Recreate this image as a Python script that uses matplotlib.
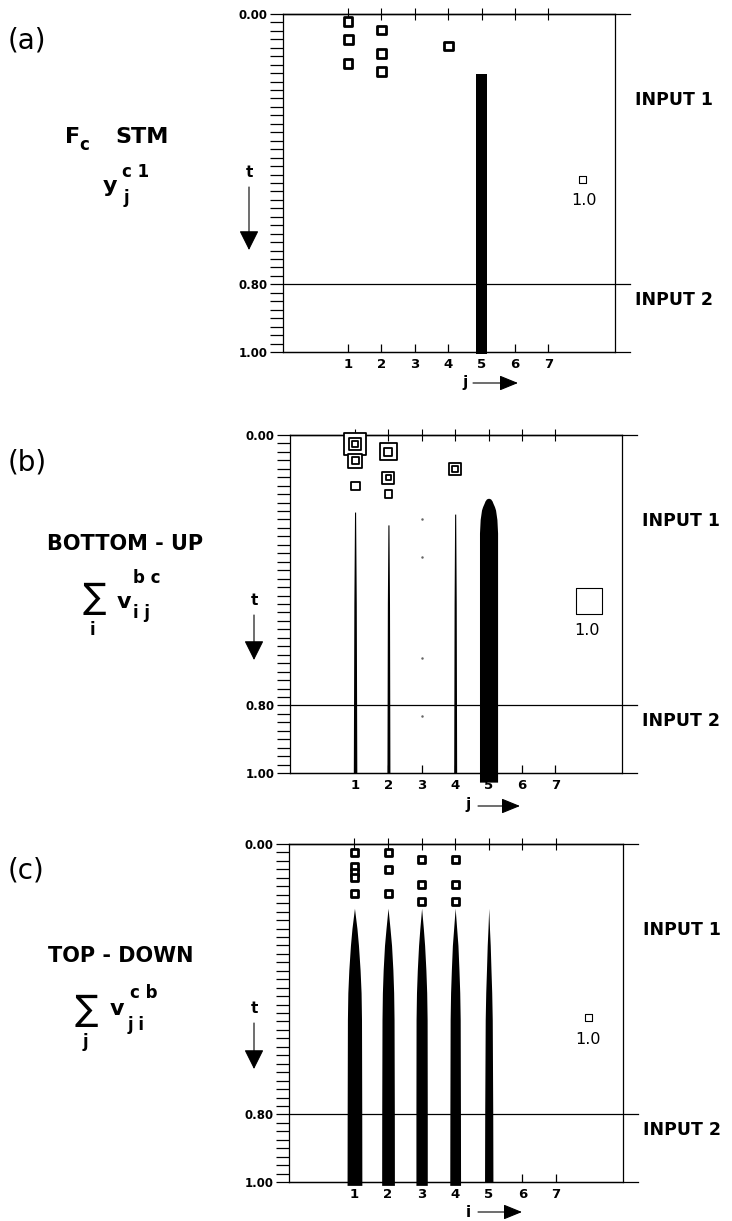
import numpy as np
import matplotlib.pyplot as plt
from matplotlib.ticker import MultipleLocator

W, H = 732, 1221
PX_PER_J = 33.35   # pixels for one column step on the j axis
PT = 0.72          # points per pixel at dpi 100

cols = [1, 2, 3, 4, 5, 6, 7]
t_ticks = [0.0, 0.8, 1.0]
t_labels = ['0.00', '0.80', '1.00']

## (a) F_c STM  y_j^{c1}   (size of a square ~ value, 1.0 = reference square)
a_ref = 7
a_sq_j = [1, 1, 1, 2, 2, 2, 4]
a_sq_t = [0.023, 0.075, 0.146, 0.047, 0.116, 0.169, 0.095]
a_sq_v = [1.25, 1.3, 1.25, 1.25, 1.3, 1.3, 1.25]
a_bar_j = [5]
a_bar_t0 = [0.178]
a_bar_t1 = [1.005]
a_bar_v = [1.45]

## (b) bottom-up  sum_i v_ij^{bc}
b_ref = 27
b_sq_j = [1, 1, 1, 1, 1, 1, 2, 2, 2, 2, 2, 4, 4]
b_sq_t = [0.027, 0.027, 0.027, 0.076, 0.076, 0.151, 0.050, 0.050, 0.126, 0.126, 0.175, 0.100, 0.100]
b_sq_v = [0.81, 0.45, 0.22, 0.52, 0.26, 0.33, 0.63, 0.30, 0.44, 0.20, 0.28, 0.44, 0.22]
b_line_j = [1, 2, 4]
b_line_t = [[0.228, 0.5, 1.0], [0.266, 0.5, 1.0], [0.234, 0.5, 1.0]]
b_line_v = [[0.04, 0.09, 0.13], [0.04, 0.08, 0.11], [0.04, 0.08, 0.11]]
b_dot_j = [3, 3, 3, 3]
b_dot_t = [0.25, 0.36, 0.66, 0.83]
b_big_j = 5
b_big_t = [0.187, 0.189, 0.195, 0.202, 0.212, 0.222, 0.25, 0.29, 1.027]
b_big_v = [0.0, 0.15, 0.26, 0.33, 0.44, 0.52, 0.62, 0.67, 0.67]

## (c) top-down  sum_j v_ji^{cb}
c_ref = 7
c_sq_j = [1, 1, 1, 1, 1, 2, 2, 2, 3, 3, 3, 4, 4, 4]
c_sq_t = [0.026, 0.068, 0.083, 0.098, 0.146, 0.026, 0.074, 0.146,
          0.047, 0.121, 0.171, 0.047, 0.121, 0.171]
c_sq_v = [1.0] * 14
c_sp_j = [1, 2, 3, 4, 5]
c_sp_t = [0.19, 0.25, 0.30, 0.373, 0.44, 0.52, 0.80, 1.01]
c_sp_v = [[0, 0.71, 1.14, 1.60, 1.88, 2.00, 2.07, 2.10],
          [0, 0.57, 1.00, 1.38, 1.60, 1.71, 1.79, 1.81],
          [0, 0.50, 0.86, 1.22, 1.45, 1.57, 1.61, 1.61],
          [0, 0.43, 0.79, 1.08, 1.30, 1.43, 1.50, 1.53],
          [0, 0.21, 0.43, 0.64, 0.85, 1.00, 1.14, 1.19]]


def fx(x):
    return x / W


def fy(y):
    return 1 - y / H


def width_j(v, ref):
    # full width of a glyph in j units
    return np.asarray(v) * ref / PX_PER_J


def squares(ax, j, t, v, ref, lw):
    side = np.asarray(v) * ref * PT
    ax.scatter(j, t, s=side ** 2, marker='s', facecolor='white', edgecolor='k',
               linewidth=lw, clip_on=False, zorder=4)


fig = plt.figure(figsize=(W / 100, H / 100), dpi=100)

boxes = [(283, 14, 615, 352), (290, 435, 622, 773), (289, 844, 623, 1182)]
axes = []
for (l, t, r, b) in boxes:
    ax = fig.add_axes([fx(l), fy(b), (r - l) / W, (b - t) / H])
    ax.set_xlim(-0.95, 9.0)
    ax.set_ylim(1.0, 0.0)
    ax.set_xticks(cols)
    ax.set_xticklabels([str(c) for c in cols], fontsize=9.5, fontweight='bold')
    ax.tick_params(axis='x', direction='in', length=6, width=0.9, pad=4)
    ax.set_yticks(t_ticks)
    ax.set_yticklabels(t_labels, fontsize=8.5, fontweight='bold')
    ax.yaxis.set_minor_locator(MultipleLocator(0.025))
    ax.tick_params(axis='y', which='both', direction='out', length=9.4, width=0.9, pad=1.5)
    sec = ax.secondary_xaxis('top')
    sec.set_xticks(cols)
    sec.tick_params(direction='inout', length=9, width=0.8, labeltop=False)
    sec.spines['top'].set_linewidth(0.9)
    for s in ax.spines.values():
        s.set_linewidth(0.9)
    # horizontal rules run a little past the right border
    for tv in t_ticks:
        ax.plot([0, 1.045], [tv, tv], color='k', lw=0.9,
                transform=ax.get_yaxis_transform(), clip_on=False)
    ax.text(9.6, 0.255, 'INPUT 1', fontsize=12.5, fontweight='bold', va='center', clip_on=False)
    ax.text(9.6, 0.845, 'INPUT 2', fontsize=12.5, fontweight='bold', va='center', clip_on=False)
    axes.append(ax)

ax_a, ax_b, ax_c = axes

# ---- (a)
squares(ax_a, a_sq_j, a_sq_t, a_sq_v, a_ref, 2.0)
for j, t0, t1, v in zip(a_bar_j, a_bar_t0, a_bar_t1, a_bar_v):
    ax_a.bar(j, t1 - t0, bottom=t0, width=width_j(v, a_ref), color='k', clip_on=False, zorder=3)
squares(ax_a, [8.0], [0.488], [1.0], a_ref, 0.8)
ax_a.text(8.07, 0.553, '1.0', fontsize=11.5, ha='center', va='center')

# ---- (b)
squares(ax_b, b_sq_j, b_sq_t, b_sq_v, b_ref, 1.3)
for j, tt, vv in zip(b_line_j, b_line_t, b_line_v):
    w = width_j(vv, b_ref)
    ax_b.fill_betweenx(tt, j - w / 2, j + w / 2, color='k', lw=0, clip_on=False, zorder=3)
ax_b.scatter(b_dot_j, b_dot_t, s=0.6, color='0.4', zorder=3)
w = width_j(b_big_v, b_ref)
ax_b.fill_betweenx(b_big_t, b_big_j - w / 2, b_big_j + w / 2, color='k', lw=0,
                   clip_on=False, zorder=3)
squares(ax_b, [8.0], [0.49], [1.0], b_ref, 0.8)
ax_b.text(7.95, 0.577, '1.0', fontsize=11.5, ha='center', va='center')

# ---- (c)
squares(ax_c, c_sq_j, c_sq_t, c_sq_v, c_ref, 2.0)
for j, vv in zip(c_sp_j, c_sp_v):
    w = width_j(vv, c_ref)
    tt = list(c_sp_t)
    if j == 5:
        tt[-1] = 1.0
    ax_c.fill_betweenx(tt, j - w / 2, j + w / 2, color='k', lw=0, clip_on=False, zorder=3)
squares(ax_c, [7.97], [0.513], [1.0], c_ref, 0.8)
ax_c.text(7.97, 0.578, '1.0', fontsize=11.5, ha='center', va='center')

# ---- left-hand labels
def ftxt(x, y, s, size, weight='bold', ha='left', va='baseline'):
    fig.text(fx(x), fy(y), s, fontsize=size, fontweight=weight, ha=ha, va=va)


def arrow(x0, y0, x1, y1, hl, hw):
    ax_a.annotate('', xy=(fx(x1), fy(y1)), xytext=(fx(x0), fy(y0)),
                  xycoords='figure fraction', textcoords='figure fraction',
                  arrowprops=dict(arrowstyle=f'-|>,head_length={hl},head_width={hw}',
                                  mutation_scale=10, lw=0.8, color='k',
                                  shrinkA=0, shrinkB=0),
                  annotation_clip=False)


for lab, y in zip(['(a)', '(b)', '(c)'], [41, 462, 871]):
    ftxt(8, y, lab, 20, weight='normal', va='center')

# (a)
ftxt(65, 143, 'F', 16)
ftxt(79, 150, 'c', 12)
ftxt(115, 143, 'STM', 16)
ftxt(103, 192, 'y', 16)
ftxt(122, 177, 'c 1', 12)
ftxt(124, 203, 'j', 12)
ftxt(249, 177, 't', 11, ha='center')
arrow(249, 187, 249, 250, 1.22, 0.61)

# (b)
ftxt(47, 550, 'BOTTOM - UP', 15)
ftxt(94, 598, '\u2211', 25, weight='normal', ha='center', va='center')
ftxt(92, 635, 'i', 12, ha='center')
ftxt(117, 608, 'v', 16)
ftxt(133, 583, 'b c', 12)
ftxt(133, 618, 'i j', 12)
ftxt(254, 605, 't', 11, ha='center')
arrow(254, 615, 254, 660, 1.22, 0.61)

# (c)
ftxt(48, 962, 'TOP - DOWN', 15)
ftxt(86, 1010, '\u2211', 25, weight='normal', ha='center', va='center')
ftxt(85, 1047, 'j', 12, ha='center')
ftxt(110, 1015, 'v', 16)
ftxt(130, 998, 'c b', 12)
ftxt(128, 1030, 'j i', 12)
ftxt(254, 1013, 't', 11, ha='center')
arrow(254, 1023, 254, 1069, 1.22, 0.61)

# j / i arrows under the panels
ftxt(465, 387, 'j', 11, ha='center')
arrow(473, 383, 518, 383, 1.15, 0.47)
ftxt(468, 809, 'j', 11, ha='center')
arrow(478, 806, 520, 806, 1.15, 0.47)
ftxt(468, 1217, 'i', 11, ha='center')
arrow(478, 1212, 522, 1212, 1.15, 0.47)

plt.savefig('out.png', dpi=100)
